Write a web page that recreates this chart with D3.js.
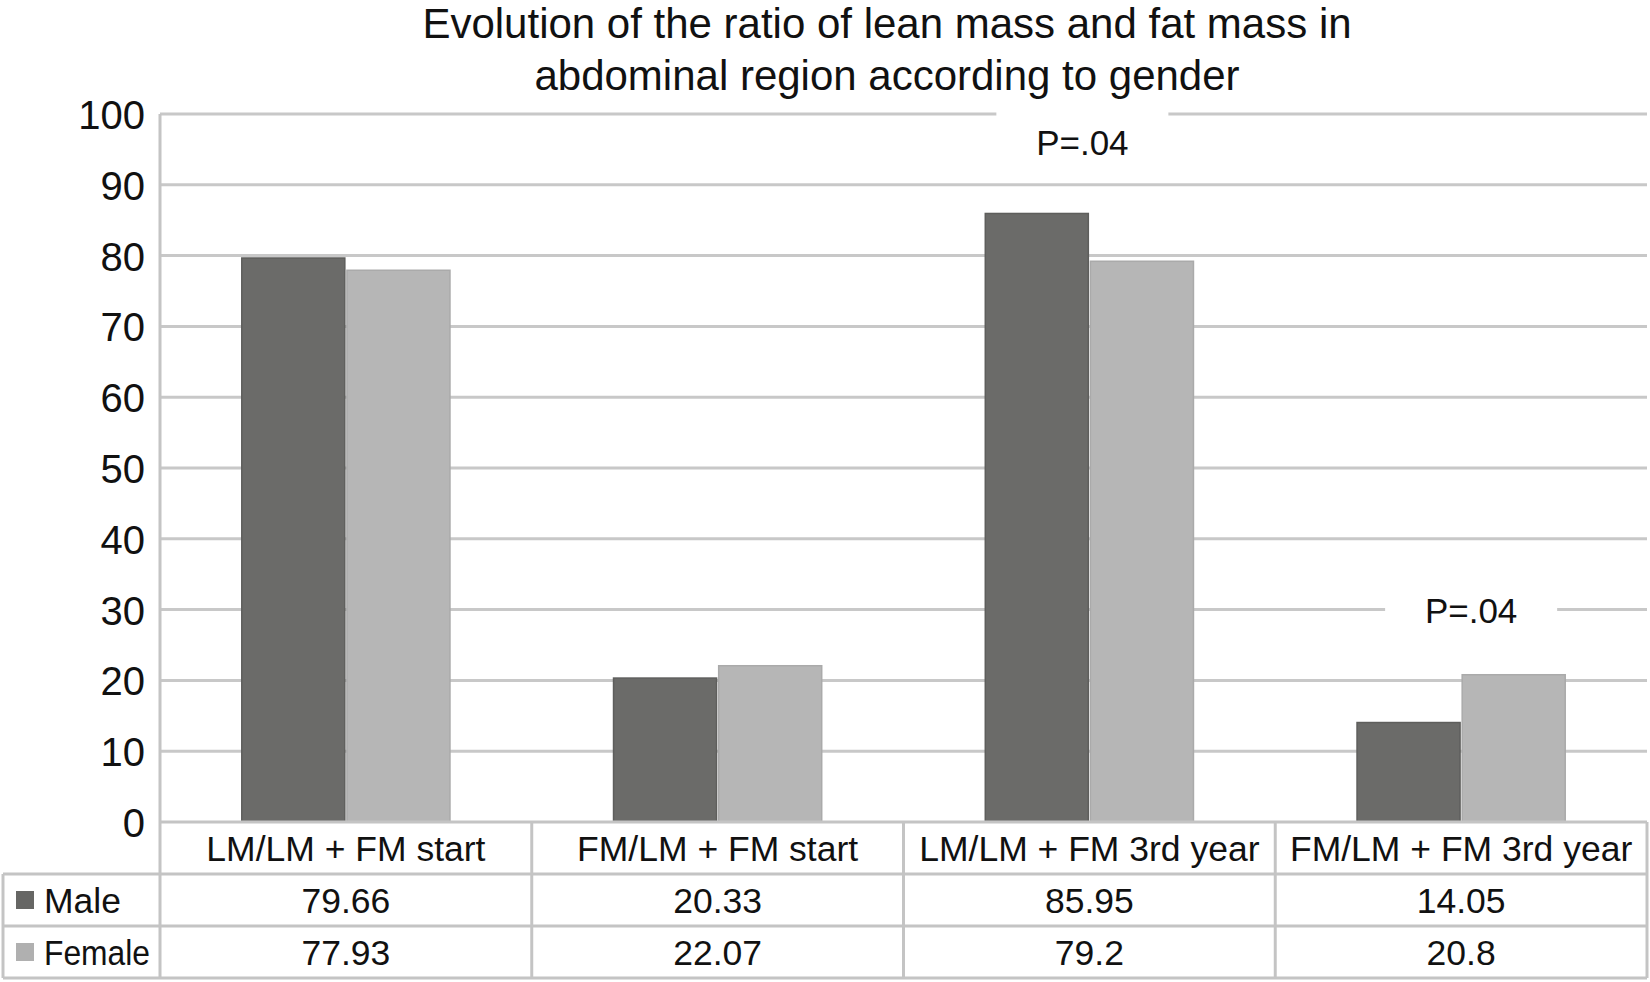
<!DOCTYPE html>
<html><head><meta charset="utf-8">
<script src="https://cdn.jsdelivr.net/npm/d3@7"></script>
<style>body{margin:0;background:#fff;} svg{display:block;font-family:"Liberation Sans",Arial,sans-serif;}</style>
</head><body>
<script>
const categories = ["LM/LM + FM start","FM/LM + FM start","LM/LM + FM 3rd year","FM/LM + FM 3rd year"];
const series = ["Male","Female"];
const maleValues = [79.66,20.33,85.95,14.05];
const femaleValues = [77.93,22.07,79.2,20.8];
const yTicks = [0,10,20,30,40,50,60,70,80,90,100];
const annotationCats = ["LM/LM + FM 3rd year","FM/LM + FM 3rd year"];
const annotationValues = [96.0, 29.9];
const annotationTexts = ["P=.04","P=.04"];
const colors = {Male:"#6b6b69", Female:"#b6b6b6"};
const valuesBySeries = {Male:maleValues, Female:femaleValues};

const W=1650,H=982;
const svg=d3.select("body").append("svg").attr("width",W).attr("height",H);
const L=160,R=1647,T=114,B=822;
const x0=d3.scaleBand().domain(categories).range([L,R]).paddingInner(0.44).paddingOuter(0.22);
const x1=d3.scaleBand().domain(series).range([0,x0.bandwidth()]).paddingInner(0.02);
const y=d3.scaleLinear().domain([0,100]).range([B,T]);
const cols=d3.scaleBand().domain(categories).range([L,R]);
const grid="#c8c8c8";
const ink="#111";

// title
svg.append("text").attr("x",887).attr("y",38).attr("text-anchor","middle").attr("font-size",42).attr("fill",ink).text("Evolution of the ratio of lean mass and fat mass in");
svg.append("text").attr("x",887).attr("y",90).attr("text-anchor","middle").attr("font-size",42).attr("fill",ink).text("abdominal region according to gender");

// gridlines
svg.append("g").selectAll("line").data(yTicks.filter(d=>d>0)).join("line")
 .attr("x1",L).attr("x2",R).attr("y1",d=>y(d)).attr("y2",d=>y(d))
 .attr("stroke",grid).attr("stroke-width",3);

// y axis
const yAxis=d3.axisLeft(y).tickValues(yTicks).tickSize(0).tickPadding(15);
const ga=svg.append("g").attr("transform",`translate(${L},0)`).call(yAxis);
ga.select(".domain").remove();
ga.selectAll("text").attr("font-size",40).attr("fill",ink).attr("font-family","Liberation Sans, Arial, sans-serif").attr("dy","0.36em");

// bars
const g=svg.append("g");
categories.forEach((c,i)=>{
  series.forEach(s=>{
    const v=valuesBySeries[s][i];
    g.append("rect").attr("x",x0(c)+x1(s)).attr("y",y(v)).attr("width",x1.bandwidth()).attr("height",y(0)-y(v))
     .attr("fill",colors[s]).attr("stroke",s==="Male"?"#5e5e5c":"#aaaaaa").attr("stroke-width",1.5);
  });
});

// annotations with white background boxes that break the gridlines
const ag=svg.append("g");
const annOffsets=[-7,10];
annotationCats.forEach((c,i)=>{
  const cx=x0(c)+x0.bandwidth()/2+annOffsets[i];
  const cy=y(annotationValues[i]);
  const bg=ag.append("rect").attr("fill","#fff");
  const t=ag.append("text").attr("x",cx).attr("y",cy).attr("dy","0.36em").attr("text-anchor","middle").attr("font-size",35).attr("fill",ink).text(annotationTexts[i]);
  const bb=t.node().getBBox();
  const half=86;
  bg.attr("x",cx-half).attr("width",2*half).attr("y",bb.y-14).attr("height",bb.height+28);
});

// table
const rowY=[822,874,926,978];
const tl=3;
const tg=svg.append("g").attr("stroke","#c4c4c4").attr("stroke-width",3).attr("fill","none");
tg.append("line").attr("x1",L).attr("x2",R).attr("y1",rowY[0]).attr("y2",rowY[0]);
[1,2,3].forEach(i=>tg.append("line").attr("x1",tl).attr("x2",R).attr("y1",rowY[i]).attr("y2",rowY[i]));
tg.append("line").attr("x1",tl).attr("x2",tl).attr("y1",rowY[1]).attr("y2",rowY[3]);
tg.append("line").attr("x1",L).attr("x2",L).attr("y1",T).attr("y2",rowY[3]);
categories.forEach(c=>{const xr=cols(c)+cols.bandwidth();tg.append("line").attr("x1",xr).attr("x2",xr).attr("y1",rowY[0]).attr("y2",rowY[3]);});

const fs=35.5;
categories.forEach((c,i)=>{
  const cx=cols(c)+cols.bandwidth()/2;
  svg.append("text").attr("x",cx).attr("y",(rowY[0]+rowY[1])/2).attr("dy","0.36em").attr("text-anchor","middle").attr("font-size",fs).attr("fill",ink).text(c);
  series.forEach((s,j)=>{
    svg.append("text").attr("x",cx).attr("y",(rowY[j+1]+rowY[j+2])/2).attr("dy","0.36em").attr("text-anchor","middle").attr("font-size",fs).attr("fill",ink).text(valuesBySeries[s][i]);
  });
});
series.forEach((s,j)=>{
  const cy=(rowY[j+1]+rowY[j+2])/2;
  svg.append("rect").attr("x",16).attr("y",cy-9).attr("width",18).attr("height",18).attr("fill",s==="Male"?"#666664":"#b0b0b0");
  const t=svg.append("text").attr("x",44).attr("y",cy).attr("dy","0.36em").attr("font-size",fs).attr("fill",ink).text(s);
  const maxW=L-44-10;
  if(t.node().getComputedTextLength()>maxW) t.attr("textLength",maxW).attr("lengthAdjust","spacingAndGlyphs");
});
</script>
</body></html>
